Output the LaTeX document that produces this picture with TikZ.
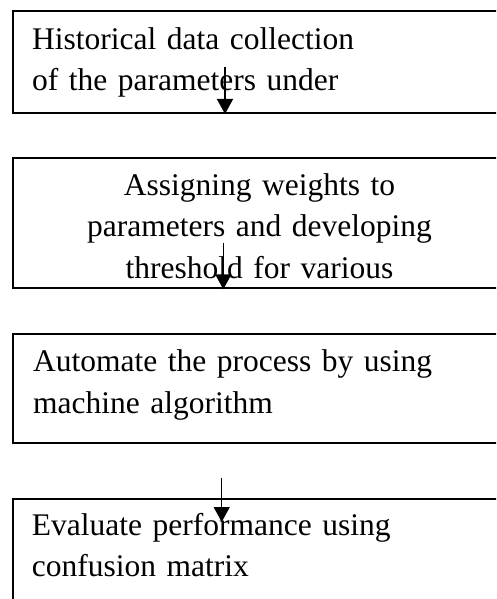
\documentclass[tikz,border=0pt]{standalone}
\usepackage{fontspec}
\setmainfont{Liberation Serif}
\usetikzlibrary{arrows.meta}

\begin{document}
\begin{tikzpicture}[x=1pt, y=-1pt,
	stepbox/.style={rectangle, draw, line width=2pt, anchor=north west, inner sep=0pt, minimum width=494pt},
	steptext/.style={inner sep=0pt, text width=460pt, font=\fontsize{31.5}{41.5}\selectfont},
	flow/.style={line width=1.4pt, -{Triangle[length=15pt, width=16pt]}}]
	\useasboundingbox (0,0) rectangle (496,599);
	\clip (0,0) rectangle (496,599);
	% boxes
	\node[stepbox, minimum height=102pt] (h1) at (12,10) {};
	\node[stepbox, minimum height=130pt] (h2) at (12,157.3) {};
	\node[stepbox, minimum height=109pt] (h3) at (12,332.7) {};
	\node[stepbox, minimum height=142pt] (h4) at (12,498) {};
	% texts
	\node[steptext, anchor=base west, align=left] (t1) at (32,49.3) {Historical data collection\\of the parameters under};
	\node[steptext, anchor=base, align=center] (t2) at (259.5,195) {Assigning weights to\\parameters and developing\\threshold for various};
	\node[steptext, anchor=base west, align=left] (t3) at (33,371.7) {Automate the process by using\\machine algorithm};
	\node[steptext, anchor=base west, align=left] (t4) at (31.7,535) {Evaluate performance using\\confusion matrix};
	% arrows
	\coordinate (a1) at (225,67);
	\coordinate (a2) at (223.3,243);
	\coordinate (a3) at (221.7,478);
	\coordinate (e3) at (221.7,522);
	\draw[flow] (a1) -- (a1 |- h1.south);
	\draw[flow] (a2) -- (a2 |- h2.south);
	\draw[flow] (a3) -- (e3);
\end{tikzpicture}
\end{document}
